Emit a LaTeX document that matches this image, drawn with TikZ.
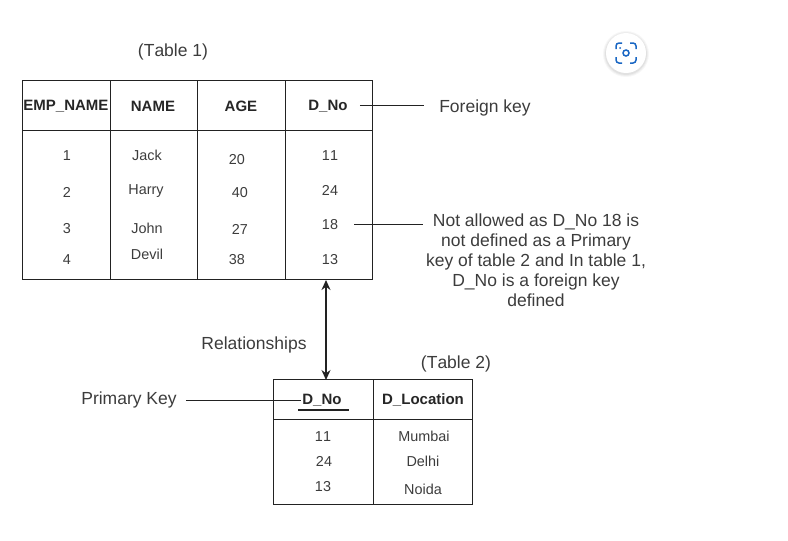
\documentclass[tikz,border=0pt]{standalone}
\usepackage{fontspec}
\usetikzlibrary{arrows.meta}
\setmainfont[Kerning=Off]{Liberation Sans}
\definecolor{inkline}{HTML}{222222}
\definecolor{inktext}{HTML}{3C3C3C}
\definecolor{lensblue}{HTML}{1A67C4}
\tikzset{
  grid/.style={draw=inkline, line width=1pt},
  heading/.style={text=black!85, inner sep=0pt, yshift=-1pt, font=\fontsize{15}{17}\selectfont\bfseries},
  cell/.style={text=inktext, inner sep=0pt, yshift=-1pt, font=\fontsize{14.4}{17}\selectfont},
  caption/.style={text=inktext, inner sep=0pt, yshift=-2pt, font=\fontsize{17.5}{20}\selectfont},
  leader/.style={draw=inkline, line width=1pt},
  relation/.style={draw=inkline, line width=1.4pt, {Stealth[length=10pt,width=9pt]}-{Stealth[length=10pt,width=9pt]}}
}
\begin{document}
\begin{tikzpicture}[x=1pt,y=-1pt]
  \useasboundingbox (0,0) rectangle (788,541);
  % Table 1 lines
  \draw[grid] (22,80) rectangle (372,279);
  \draw[grid] (22,130) -- (372,130);
  \draw[grid] (110,80) -- (110,279);
  \draw[grid] (197,80) -- (197,279);
  \draw[grid] (285,80) -- (285,279);
  % Table 2 lines
  \draw[grid] (273,379) rectangle (472,504);
  \draw[grid] (273,419) -- (472,419);
  \draw[grid] (373,379) -- (373,504);
  % Table 1 text
  \node[caption] (tableone) at (173,50) {(Table 1)};
  \node[heading] (empname) at (66,105) {EMP\_NAME};
  \node[heading] (name) at (153,105) {NAME};
  \node[heading] (age) at (241,105) {AGE};
  \node[heading, inner xsep=12pt] (dnoone) at (328,105) {D\_No};
  \node[cell] (empa) at (67,155) {1};
  \node[cell] (empb) at (67,191) {2};
  \node[cell] (empc) at (67,228) {3};
  \node[cell] (empd) at (67,259) {4};
  \node[cell] (namea) at (147,154) {Jack};
  \node[cell] (nameb) at (146,190) {Harry};
  \node[cell] (namec) at (147,227) {John};
  \node[cell] (named) at (147,253) {Devil};
  \node[cell] (agea) at (237,159) {20};
  \node[cell] (ageb) at (240,192) {40};
  \node[cell] (agec) at (240,228) {27};
  \node[cell] (aged) at (237,259) {38};
  \node[cell] (dnoa) at (330,155) {11};
  \node[cell] (dnob) at (330,189) {24};
  \node[cell, inner xsep=16pt] (dnoc) at (330,224) {18};
  \node[cell] (dnod) at (330,259) {13};
  % Table 2 text
  \node[caption] (tabletwo) at (456,362) {(Table 2)};
  \node[heading, inner xsep=1pt] (dnotwo) at (322,399) {D\_No};
  \node[heading] (location) at (423,399) {D\_Location};
  \node[cell] (dnoe) at (323,436) {11};
  \node[cell] (dnof) at (324,460) {24};
  \node[cell] (dnog) at (323,486) {13};
  \node[cell] (placea) at (424,435) {Mumbai};
  \node[cell] (placeb) at (423,460) {Delhi};
  \node[cell] (placec) at (423,488) {Noida};
  % Notes
  \node[caption, inner xsep=15pt] (foreign) at (485,106) {Foreign key};
  \node[caption, inner xsep=9pt] (primary) at (129,398) {Primary Key};
  \node[caption] (relations) at (254,343) {Relationships};
  \node[caption, align=center, outer sep=3pt] (notallowed) at (536,258.5)
    {Not allowed as D\_No 18 is\\ not defined as a Primary\\key of table 2 and In table 1,\\D\_No is a foreign key\\defined};
  % Connectors
  \draw[leader, transform canvas={yshift=1pt}] (dnoone.east) -- (dnoone.east -| foreign.west);
  \draw[leader, transform canvas={yshift=1pt}] (dnoc.east) -- (dnoc.east -| notallowed.west);
  \draw[leader] (primary.east) -- (dnotwo.west |- primary.east);
  \draw[draw=inkline, line width=2.5pt] (298,410) -- (349,410);
  \coordinate (reltop) at (326,280);
  \coordinate (relbot) at (326,380);
  \draw[relation] (reltop) -- (relbot);
  % Lens button
  \foreach \r/\o in {23/0.03, 22/0.04, 21/0.05}
    \fill[black, opacity=\o] (626,54) circle [radius=\r];
  \fill[white] (626,53) circle [radius=20];
  \draw[lensblue, line width=1.5pt, rounded corners=3pt] (616,49) -- (616,43) -- (622,43);
  \draw[lensblue, line width=1.5pt, rounded corners=3pt] (630,43) -- (636,43) -- (636,49);
  \draw[lensblue, line width=1.5pt, rounded corners=3pt] (636,57) -- (636,63) -- (630,63);
  \draw[lensblue, line width=1.5pt, rounded corners=3pt] (622,63) -- (616,63) -- (616,57);
  \draw[lensblue, line width=1.5pt] (626,53) circle [radius=3];
  \fill[lensblue] (620,48) circle [radius=1];
\end{tikzpicture}
\end{document}
